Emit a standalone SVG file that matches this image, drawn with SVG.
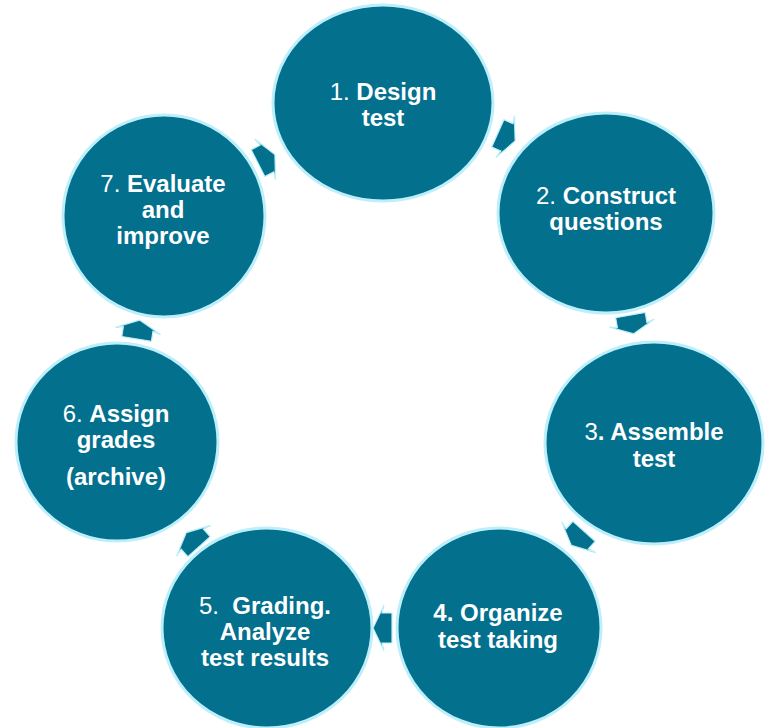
<svg xmlns="http://www.w3.org/2000/svg" xmlns:xlink="http://www.w3.org/1999/xlink" width="769" height="728" viewBox="0 0 769 728">
<style>
.node{fill:#03708E;stroke:#BDEFFA;stroke-width:3}
.arr{fill:#03708E;stroke:#BDEFFA;stroke-width:1.2;stroke-linejoin:miter}
.t{font-family:"Liberation Sans",Arial,sans-serif;font-size:24px;fill:#FFFFFF;text-anchor:middle;font-weight:bold;white-space:pre}
.n{font-weight:normal}
</style>
<defs>
<polygon id="arrow" points="-9,-15 1,-15 -1,-23 10,0 -1,23 1,15 -9,15"/>
</defs>
<rect width="769" height="728" fill="#FFFFFF"/>
<g id="connectors">
<use xlink:href="#arrow" class="arr" transform="translate(506,137) rotate(24)"/>
<use xlink:href="#arrow" class="arr" transform="translate(632,324) rotate(80)"/>
<use xlink:href="#arrow" class="arr" transform="translate(578,538) rotate(132)"/>
<use xlink:href="#arrow" class="arr" transform="translate(383,628) rotate(180)"/>
<use xlink:href="#arrow" class="arr" transform="translate(193,540) rotate(228)"/>
<use xlink:href="#arrow" class="arr" transform="translate(138,330) rotate(-81)"/>
<use xlink:href="#arrow" class="arr" transform="translate(266,159) rotate(-27)"/>
</g>
<g id="node1">
<ellipse class="node" cx="383" cy="103" rx="110" ry="98"/>
<text class="t" x="383" y="100"><tspan class="n">1. </tspan>Design</text>
<text class="t" x="383" y="126">test</text>
</g>
<g id="node2">
<ellipse class="node" cx="606" cy="213" rx="108" ry="100"/>
<text class="t" x="606" y="204"><tspan class="n">2. </tspan>Construct</text>
<text class="t" x="606" y="230">questions</text>
</g>
<g id="node3">
<ellipse class="node" cx="654" cy="443" rx="109" ry="101"/>
<text class="t" x="654" y="440"><tspan class="n">3</tspan>. Assemble</text>
<text class="t" x="654" y="467">test</text>
</g>
<g id="node4">
<ellipse class="node" cx="499" cy="628" rx="102" ry="100"/>
<text class="t" x="498" y="621">4. Organize</text>
<text class="t" x="498" y="648">test taking</text>
</g>
<g id="node5">
<ellipse class="node" cx="267" cy="628" rx="105" ry="100"/>
<text class="t" x="265" y="614"><tspan class="n">5.  </tspan>Grading.</text>
<text class="t" x="265" y="640">Analyze</text>
<text class="t" x="265" y="666">test results</text>
</g>
<g id="node6">
<ellipse class="node" cx="117" cy="442" rx="101" ry="99"/>
<text class="t" x="116" y="422"><tspan class="n">6. </tspan>Assign</text>
<text class="t" x="116" y="448">grades</text>
<text class="t" x="116" y="485">(archive)</text>
</g>
<g id="node7">
<ellipse class="node" cx="164" cy="216" rx="101" ry="101"/>
<text class="t" x="163" y="192"><tspan class="n">7. </tspan>Evaluate</text>
<text class="t" x="163" y="218">and</text>
<text class="t" x="163" y="244">improve</text>
</g>
</svg>
